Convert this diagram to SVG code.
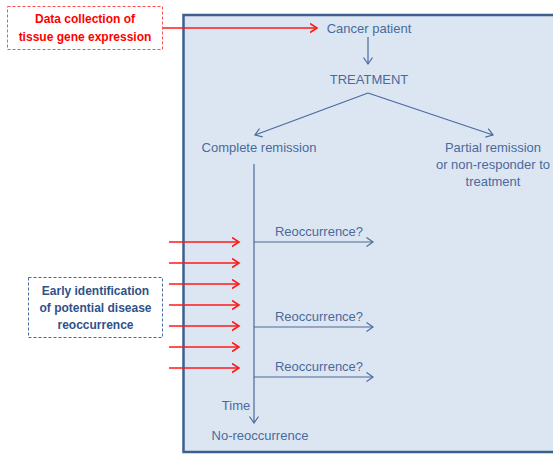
<svg xmlns="http://www.w3.org/2000/svg" width="553" height="455" viewBox="0 0 553 455">
<defs>
<style>
.t{font-family:"Liberation Sans",Arial,sans-serif;font-size:13px;fill:#4a6a9c;text-anchor:middle}
.rb{font-family:"Liberation Sans",Arial,sans-serif;font-size:12px;font-weight:bold;fill:#ff0000;text-anchor:middle}
.bb{font-family:"Liberation Sans",Arial,sans-serif;font-size:12px;font-weight:bold;fill:#2f5289;text-anchor:middle}
.bl{stroke:#4a6a9c;stroke-width:1.2;fill:none;marker-end:url(#ab)}
.rl{stroke:#ff1a1a;stroke-width:1.6;fill:none;marker-end:url(#ar)}
</style>
<marker id="ab" markerUnits="userSpaceOnUse" markerWidth="10" markerHeight="12" refX="7" refY="5" orient="auto">
<path d="M0.5,0.5 L7,5 L0.5,9.5" fill="none" stroke="#4a6a9c" stroke-width="1.2"/>
</marker>
<marker id="ar" markerUnits="userSpaceOnUse" markerWidth="10" markerHeight="12" refX="7.5" refY="5" orient="auto">
<path d="M0.5,0.5 L7.5,5 L0.5,9.5" fill="none" stroke="#ff1a1a" stroke-width="1.6"/>
</marker>
</defs>
<rect x="0" y="0" width="553" height="455" fill="#ffffff"/>
<g id="frame">
<rect x="183.5" y="15" width="380" height="437" fill="#dce6f2" stroke="#3b5f8f" stroke-width="2.5"/>
</g>
<g id="connectors">
<line class="rl" x1="162" y1="28" x2="317" y2="28"/>
<line class="bl" x1="368" y1="37" x2="368" y2="64"/>
<line class="bl" x1="368" y1="93" x2="255" y2="135"/>
<line class="bl" x1="368" y1="93" x2="493" y2="135"/>
<line class="bl" x1="254" y1="164" x2="254" y2="423"/>
<line class="bl" x1="254" y1="242" x2="373" y2="242"/>
<line class="bl" x1="254" y1="327" x2="373" y2="327"/>
<line class="bl" x1="254" y1="377" x2="373" y2="377"/>
<line class="rl" x1="169" y1="242" x2="239" y2="242"/>
<line class="rl" x1="169" y1="263" x2="239" y2="263"/>
<line class="rl" x1="169" y1="284" x2="239" y2="284"/>
<line class="rl" x1="169" y1="305" x2="239" y2="305"/>
<line class="rl" x1="169" y1="326" x2="239" y2="326"/>
<line class="rl" x1="169" y1="347" x2="239" y2="347"/>
<line class="rl" x1="169" y1="368" x2="239" y2="368"/>
</g>
<g id="data-collection">
<rect x="7.5" y="6.5" width="155" height="43" fill="#ffffff" stroke="#ff5050" stroke-width="1" stroke-dasharray="3,2"/>
<text class="rb" x="85" y="23">Data collection of</text>
<text class="rb" x="85" y="41">tissue gene expression</text>
</g>
<g id="early-identification">
<rect x="28.5" y="277.5" width="134" height="60" fill="#ffffff" stroke="#4a6a9c" stroke-width="1" stroke-dasharray="3,2"/>
<text class="bb" x="95.5" y="295">Early identification</text>
<text class="bb" x="95.5" y="312">of potential disease</text>
<text class="bb" x="95.5" y="329">reoccurrence</text>
</g>
<g id="cancer-patient"><text class="t" x="369" y="33">Cancer patient</text></g>
<g id="treatment"><text class="t" x="369" y="84">TREATMENT</text></g>
<g id="complete-remission"><text class="t" x="259" y="152">Complete remission</text></g>
<g id="partial-remission">
<text class="t" x="493" y="152">Partial remission</text>
<text class="t" x="493" y="169">or non-responder to</text>
<text class="t" x="493" y="186">treatment</text>
</g>
<g id="reoccurrence-1"><text class="t" x="319" y="236">Reoccurrence?</text></g>
<g id="reoccurrence-2"><text class="t" x="319" y="321">Reoccurrence?</text></g>
<g id="reoccurrence-3"><text class="t" x="319" y="371">Reoccurrence?</text></g>
<g id="time"><text class="t" x="236" y="410">Time</text></g>
<g id="no-reoccurrence"><text class="t" x="260" y="440">No-reoccurrence</text></g>
</svg>
